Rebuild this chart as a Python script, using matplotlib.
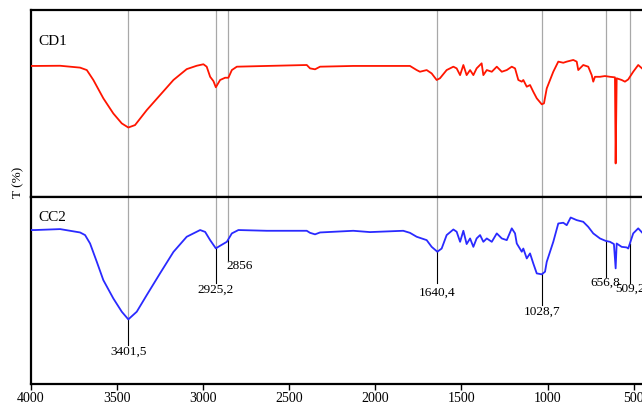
import numpy as np
import matplotlib
matplotlib.use("Agg")
import matplotlib.pyplot as plt

plt.rcParams['font.family'] = ['Liberation Serif', 'DejaVu Serif']

# CD1 spectrum (wavenumber, T)
cd1_wn = [4000, 3965, 3830, 3714, 3675, 3637, 3579, 3521, 3472, 3434, 3395, 3327,
          3250, 3172, 3095, 3037, 2998, 2979, 2959, 2940, 2926, 2901, 2872, 2853,
          2833, 2804, 2630,
          2398, 2379, 2350, 2321, 2128, 1799, 1760, 1741, 1702, 1673, 1644, 1625,
          1586, 1547, 1528, 1508, 1489, 1470, 1450, 1431, 1412, 1383, 1373, 1353,
          1324, 1295, 1266, 1237, 1208, 1189, 1170, 1150, 1141, 1121, 1102, 1083,
          1063, 1034, 1021, 1005, 967, 938, 909, 889, 851, 831, 822, 793, 764, 744,
          735, 725, 696, 667, 638, 609, 605, 599, 570, 551, 532, 503, 474, 452]
cd1_t = [70.1, 70.1, 70.2, 69.2, 67.9, 62.6, 52.8, 44.7, 39.4, 37.2, 38.5, 46.5,
         54.5, 62.6, 68.4, 70.2, 71.0, 69.7, 64.3, 62.0, 58.7, 62.6, 63.8, 63.8,
         67.9, 69.7, 70.1,
         70.6, 68.8, 68.3, 69.7, 70.1, 70.1, 67.9, 67.0, 67.9, 66.1, 62.6, 63.5,
         67.9, 69.7, 68.8, 65.2, 70.6, 65.2, 67.9, 65.2, 68.8, 71.5, 65.2, 67.9,
         67.0, 69.7, 67.0, 67.9, 69.7, 68.8, 62.6, 61.7, 62.6, 59.0, 59.9, 56.3,
         52.8, 49.6, 50.1, 58.1, 67.0, 72.4, 71.8, 72.4, 73.3, 72.4, 67.9, 70.6,
         69.7, 65.2, 61.7, 64.3, 64.3, 64.7, 64.3, 64.0, 18.0, 63.5, 62.6, 61.7,
         62.9, 67.0, 70.6, 68.8]

# CC2 spectrum (wavenumber, T)
cc2_wn = [4000, 3975, 3830, 3714, 3685, 3656, 3617, 3579, 3521, 3472, 3434, 3385,
          3327, 3250, 3172, 3095, 3017, 2988, 2959, 2926, 2901, 2862, 2833, 2795,
          2630, 2398,
          2379, 2350, 2321, 2128, 2031, 1838, 1799, 1760, 1702, 1673, 1640, 1615,
          1586, 1547, 1528, 1508, 1489, 1470, 1450, 1431, 1412, 1392, 1373, 1353,
          1324, 1295, 1266, 1237, 1208, 1189, 1179, 1150, 1141, 1121, 1102, 1083,
          1063, 1034, 1015, 1005, 967, 938, 909, 889, 866, 831, 793, 764, 735, 696,
          663, 638, 615, 605, 599, 570, 541, 532, 503, 474, 452]
cc2_t = [82.4, 82.4, 82.9, 81.1, 79.7, 75.2, 65.4, 55.6, 45.8, 38.7, 34.6, 38.7,
         47.6, 59.2, 70.7, 78.8, 82.4, 81.4, 77.0, 72.6, 74.0, 76.1, 80.6, 82.4,
         82.0, 82.0,
         80.9, 80.1, 81.1, 82.0, 81.3, 82.0, 80.9, 78.8, 77.0, 73.4, 70.8, 72.5,
         79.7, 82.7, 81.5, 76.1, 82.0, 74.9, 77.9, 73.4, 77.9, 79.7, 76.1, 77.9,
         76.1, 80.6, 77.9, 77.0, 83.3, 80.6, 75.2, 70.8, 72.5, 67.2, 69.9, 64.5,
         59.2, 58.7, 60.1, 65.4, 76.1, 85.9, 86.3, 85.0, 89.1, 87.7, 86.8, 84.1,
         80.6, 77.9, 76.6, 76.1, 74.9, 61.9, 75.2, 73.4, 73.1, 72.5, 80.6, 83.3,
         81.1]

# marked peaks: where the lines are drawn, and their labels
peak_pos = [3434, 2926, 2855, 1640, 1034, 663, 524]
peak_txt = ['3401,5', '2925,2', '2856', '1640,4', '1028,7', '656,8', '509,2']
peak_line_end = [20.9, 54.0, 66.3, 54.0, 42.2, 57.2, 54.0]
peak_txt_y = [17.1, 50.3, 63.1, 48.7, 38.5, 54.0, 50.8]

fig = plt.figure(figsize=(6.42, 4.09), dpi=100)
ax1 = fig.add_axes([0.048, 0.518, 0.952, 0.4576])
ax2 = fig.add_axes([0.048, 0.061, 0.952, 0.457])

for ax in (ax1, ax2):
    ax.set_xlim(4000, 452)
    ax.set_ylim(0, 100)
    ax.set_yticks([])
    ax.spines['right'].set_visible(False)
    for s in ('left', 'top', 'bottom'):
        ax.spines[s].set_linewidth(1.6)

ax1.set_xticks([])

cc2_at_peak = np.interp(peak_pos, cc2_wn[::-1], cc2_t[::-1])
for p, yc in zip(peak_pos, cc2_at_peak):
    ax1.axvline(p, color='#a8a8a8', lw=0.9, zorder=1)
    ax2.plot([p, p], [100, yc], color='#a8a8a8', lw=0.9, zorder=1)

ax1.plot(cd1_wn, cd1_t, color='#ff1500', lw=1.3, zorder=3)
ax2.plot(cc2_wn, cc2_t, color='#2a2aff', lw=1.3, zorder=3)

for p, yc, ye, yt, txt in zip(peak_pos, cc2_at_peak, peak_line_end, peak_txt_y, peak_txt):
    ax2.plot([p, p], [yc, ye], color='black', lw=0.8, zorder=2)
    if txt == '2856':
        ax2.text(p + 12, yt, txt, ha='left', va='center', fontsize=9.5)
    else:
        ax2.text(p, yt, txt, ha='center', va='center', fontsize=9.5)

ax1.text(0.012, 0.83, 'CD1', transform=ax1.transAxes, fontsize=11, va='center')
ax2.text(0.012, 0.89, 'CC2', transform=ax2.transAxes, fontsize=11, va='center')

ax2.set_xticks([4000, 3500, 3000, 2500, 2000, 1500, 1000, 500])
ax2.tick_params(axis='x', direction='out', length=4, width=1, labelsize=10, pad=2)

fig.text(0.028, 0.553, 'T (%)', rotation=90, ha='center', va='center', fontsize=9.5)

fig.savefig('out.png', dpi=100)
